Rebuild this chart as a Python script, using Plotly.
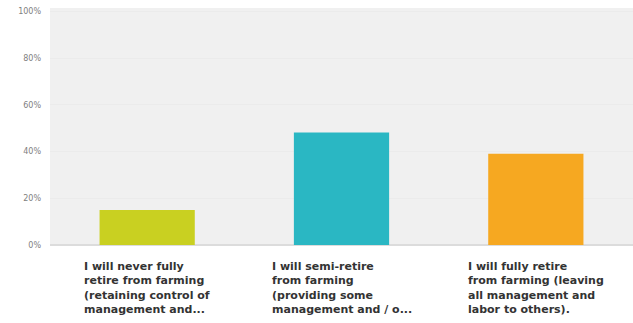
import plotly.graph_objects as go

categories = ["never", "semi", "fully"]
labels = [
    "I will never fully<br>retire from farming<br>(retaining control of<br>management and...",
    "I will semi-retire<br>from farming<br>(providing some<br>management and / o...",
    "I will fully retire<br>from farming (leaving<br>all management and<br>labor to others).",
]
values = [15, 48.2, 39.1]
colors = ["#c9d021", "#2ab7c3", "#f6a821"]
tick_vals = [0, 20, 40, 60, 80, 100]
tick_text = ["0%", "20%", "40%", "60%", "80%", "100%"]

fig = go.Figure(go.Bar(x=categories, y=values, marker=dict(color=colors, line=dict(width=0)),
                       hoverinfo="skip"))

for c, lab in zip(categories, labels):
    fig.add_annotation(x=c, y=0, xref="x", yref="y", text=lab, showarrow=False,
                       xanchor="center", yanchor="top", yshift=-13, align="left",
                       font=dict(family="DejaVu Sans", size=11, color="#333333", weight="bold"))

fig.update_layout(
    width=633, height=323,
    margin=dict(l=50, r=0, t=8, b=78),
    paper_bgcolor="white", plot_bgcolor="#f0f0f0",
    bargap=0.51, showlegend=False,
    xaxis=dict(showticklabels=False, showgrid=False, zeroline=False, showline=False),
    yaxis=dict(range=[0, 101.5], tickvals=tick_vals, ticktext=tick_text, showgrid=True,
               gridcolor="#ebebeb", zeroline=True, zerolinecolor="#dcdcdc",
               ticks="", ticklen=0, ticklabelstandoff=8,
               tickfont=dict(family="DejaVu Sans", size=8, color="#808080")),
)
fig.write_html("out.html")
